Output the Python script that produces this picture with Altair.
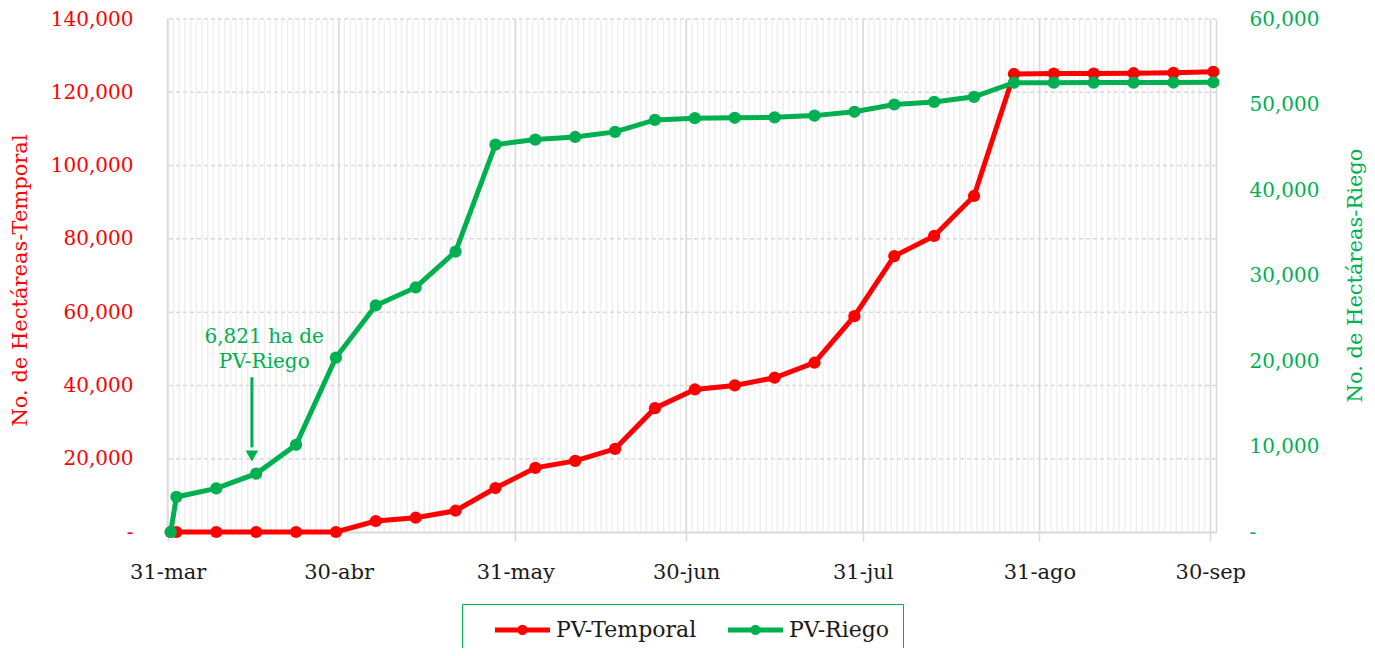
import altair as alt
import pandas as pd

# ---------------- data ----------------
dates = ["2024-03-31", "2024-04-01", "2024-04-08", "2024-04-15", "2024-04-22", "2024-04-29",
         "2024-05-06", "2024-05-13", "2024-05-20", "2024-05-27", "2024-06-03", "2024-06-10",
         "2024-06-17", "2024-06-24", "2024-07-01", "2024-07-08", "2024-07-15", "2024-07-22",
         "2024-07-29", "2024-08-05", "2024-08-12", "2024-08-19", "2024-08-26", "2024-09-02",
         "2024-09-09", "2024-09-16", "2024-09-23", "2024-09-30"]
pv_temporal = [0, 0, 0, 0, 0, 0, 3000, 3900, 5800, 12000, 17500, 19400, 22700, 33800,
               38900, 40000, 42100, 46200, 58900, 75300, 80800, 91700, 125000, 125100,
               125100, 125200, 125300, 125600]
pv_riego = [0, 4100, 5100, 6821, 10200, 20400, 26500, 28600, 32800, 45300, 45900, 46200,
            46800, 48200, 48400, 48450, 48500, 48700, 49150, 50000, 50300, 50900, 52550,
            52550, 52560, 52560, 52570, 52600]
series_names = ["PV-Temporal", "PV-Riego"]
month_ends = ["2024-03-31", "2024-04-30", "2024-05-31", "2024-06-30", "2024-07-31",
              "2024-08-31", "2024-09-30"]
left_ticks = [0, 20000, 40000, 60000, 80000, 100000, 120000, 140000]
right_ticks = [0, 10000, 20000, 30000, 40000, 50000, 60000]
annotation_lines = ["6,821 ha de", "PV-Riego"]
annotation_date = "2024-04-16T10:00"
annotation_y = [22800, 19900]
arrow_date = "2024-04-14T06:00"
arrow_from, arrow_to = 18100, 9900
arrow_head = 8900

# ---------------- styling ----------------
FONT = "DejaVu Serif"
RED = "#FF0000"
GREEN = "#00B050"
GRID = "#d9d9d9"
MINOR = "#efefef"

df_t = pd.DataFrame({"fecha": pd.to_datetime(dates), "valor": pv_temporal, "serie": series_names[0]})
df_r = pd.DataFrame({"fecha": pd.to_datetime(dates), "valor": pv_riego, "serie": series_names[1]})
days = pd.date_range(month_ends[0], month_ends[-1], freq="D") - pd.Timedelta(hours=12)
df_days = pd.DataFrame({"fecha": days})
df_months = pd.DataFrame({"fecha": pd.to_datetime(month_ends) - pd.Timedelta(hours=12)})
df_hgrid = pd.DataFrame({"v": left_ticks[1:]})
df_ann = pd.DataFrame({"fecha": pd.to_datetime([annotation_date] * 2), "y": annotation_y,
                       "txt": annotation_lines})
df_arrow = pd.DataFrame({"fecha": pd.to_datetime([arrow_date]), "y": [arrow_from], "y2": [arrow_to],
                         "yh": [arrow_head]})

x_scale = alt.Scale(domain=[alt.DateTime(year=2024, month=3, date=30, hours=8, minutes=24),
                            alt.DateTime(year=2024, month=9, date=30, hours=11, minutes=15)])
yl_scale = alt.Scale(domain=[0, 140000], nice=False)
yr_scale = alt.Scale(domain=[0, 60000], nice=False)
color_scale = alt.Scale(domain=series_names, range=[RED, GREEN])

tick_values = [alt.DateTime(year=int(d[:4]), month=int(d[5:7]), date=int(d[8:10])) for d in month_ends]

x_axis = alt.Axis(values=tick_values,
                  labelExpr="date(datum.value) + '-' + ['ene','feb','mar','abr','may','jun','jul','ago','sep','oct','nov','dic'][month(datum.value)]",
                  labelFont=FONT, labelFontSize=21, labelColor="#1a1a1a", labelPadding=20,
                  labelFlush=False, labelOverlap=False,
                  ticks=True, tickColor=GRID, tickSize=9, tickWidth=1.5, tickOffset=-3,
                  domain=True, domainColor=GRID, domainWidth=2, grid=False, title=None)

left_axis = alt.Axis(orient="left", values=left_ticks,
                     labelExpr="datum.value == 0 ? '-' : format(datum.value, ',')",
                     labelFont=FONT, labelFontSize=20, labelColor=RED, labelPadding=34,
                     ticks=False, domain=True, domainColor=GRID, domainWidth=1.5, grid=False,
                     title="No. de Hectáreas-Temporal", titleFont=FONT, titleFontSize=21,
                     titleFontWeight="normal", titleColor=RED, titleAngle=270,
                     titleX=-147, titleY=261, titleAlign="center", titleBaseline="middle")

right_axis = alt.Axis(orient="right", values=right_ticks,
                      labelExpr="datum.value == 0 ? '-' : format(datum.value, ',')",
                      labelFont=FONT, labelFontSize=20, labelColor=GREEN, labelPadding=33,
                      ticks=False, domain=True, domainColor=GRID, domainWidth=1.5, grid=False,
                      title="No. de Hectáreas-Riego", titleFont=FONT, titleFontSize=21,
                      titleFontWeight="normal", titleColor=GREEN, titleAngle=270,
                      titleX=139, titleY=256, titleAlign="center", titleBaseline="middle")

legend_symbol = ("M-2.75,0 L2.75,0 M0.27,0 A0.27,0.27 0 1 1 -0.27,0 "
                 "A0.27,0.27 0 1 1 0.27,0")
legend = alt.Legend(title=None, orient="none", legendX=295, legendY=585, direction="horizontal",
                    labelFont=FONT, labelFontSize=22, labelColor="#1a1a1a", labelOffset=21,
                    symbolType=legend_symbol, symbolSize=400, symbolStrokeWidth=5,
                    symbolOffset=35, columnPadding=11, padding=13, strokeColor=GREEN,
                    fillColor="white", cornerRadius=0)

x_plain = alt.X("fecha:T", scale=x_scale, axis=x_axis)

minor_lines = alt.Chart(df_days).mark_rule(color=MINOR, strokeWidth=1.5).encode(x=x_plain)
major_lines = alt.Chart(df_months).mark_rule(color=GRID, strokeWidth=1.5).encode(x=x_plain)
h_lines = alt.Chart(df_hgrid).mark_rule(color=GRID, strokeWidth=1.5, strokeDash=[4, 3]).encode(
    y=alt.Y("v:Q", scale=yl_scale, axis=None))

red = alt.Chart(df_t).mark_line(
    strokeWidth=5, point=alt.OverlayMarkDef(filled=True, size=150, opacity=1)
).encode(
    x=x_plain,
    y=alt.Y("valor:Q", scale=yl_scale, axis=left_axis),
    color=alt.Color("serie:N", scale=color_scale, legend=legend),
)

yr = alt.Y("valor:Q", scale=yr_scale, axis=right_axis)
green_line = alt.Chart(df_r).mark_line(
    strokeWidth=5, point=alt.OverlayMarkDef(filled=True, size=150, opacity=1)
).encode(
    x=x_plain, y=yr,
    color=alt.Color("serie:N", scale=color_scale, legend=legend),
)
ann_text = alt.Chart(df_ann).mark_text(font=FONT, fontSize=20, color=GREEN, align="center",
                                       baseline="middle").encode(
    x=x_plain, y=alt.Y("y:Q", scale=yr_scale, axis=right_axis), text="txt:N")
ann_rule = alt.Chart(df_arrow).mark_rule(color=GREEN, strokeWidth=3).encode(
    x=x_plain, y=alt.Y("y:Q", scale=yr_scale, axis=right_axis), y2="y2:Q")
ann_head = alt.Chart(df_arrow).mark_point(shape="triangle-down", filled=True, color=GREEN,
                                          size=160, opacity=1).encode(
    x=x_plain, y=alt.Y("yh:Q", scale=yr_scale, axis=right_axis))

green = alt.layer(green_line, ann_text, ann_rule, ann_head)

chart = alt.layer(minor_lines, major_lines, h_lines, red, green).resolve_scale(
    y="independent"
).properties(
    width=1049, height=513,
    autosize=alt.AutoSizeParams(type="none"),
    padding={"left": 159, "top": 11, "right": 151, "bottom": 116},
).configure_view(stroke=None)

chart.save("out.html", embed_options={"renderer": "svg", "actions": False})
